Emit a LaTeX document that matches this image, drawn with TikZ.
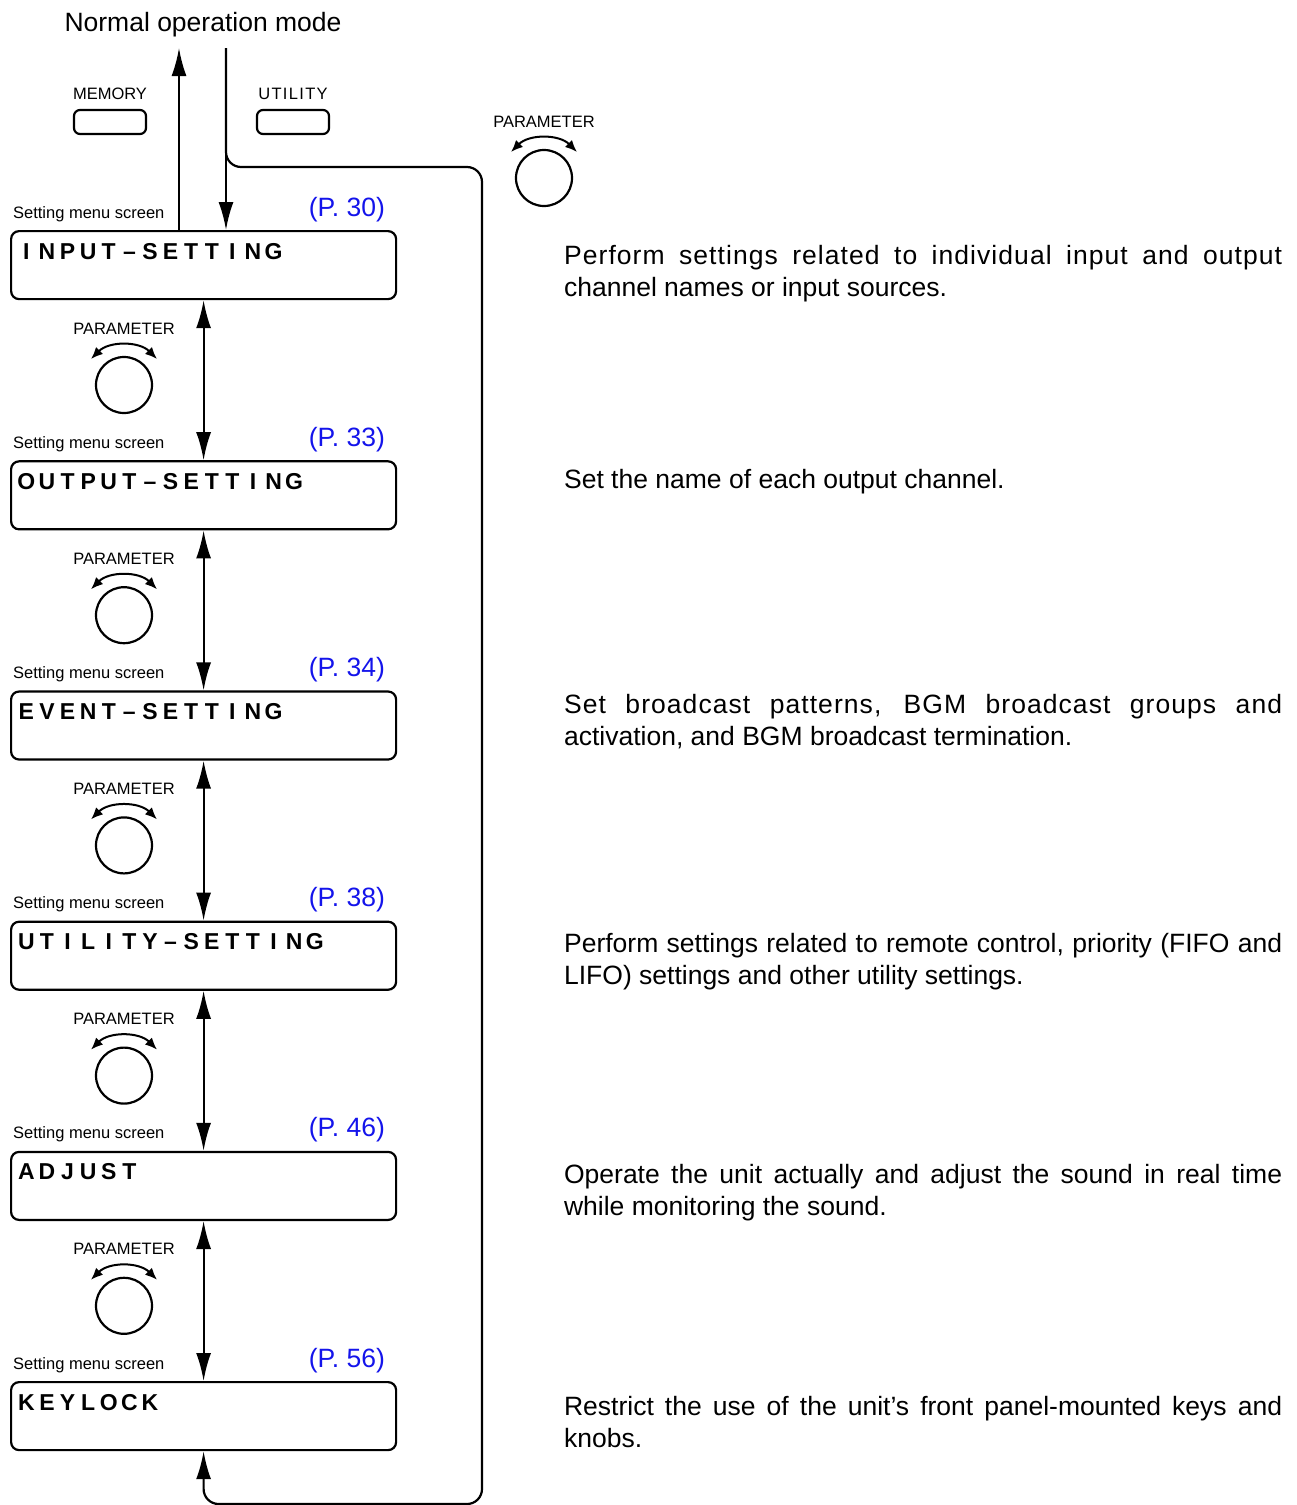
\documentclass[tikz,border=0pt]{standalone}
\usepackage{fontspec}
\setmainfont{Liberation Sans}
\usetikzlibrary{arrows.meta}
\definecolor{pblue}{RGB}{20,20,235}
\def\lcdstop{}
\newcommand\lcdtxt[1]{\lcdloop#1\lcdstop}
\newcommand\lcdloop[1]{\ifx#1\lcdstop\else\makebox[20.6pt]{#1}\expandafter\lcdloop\fi}
\begin{document}
\begin{tikzpicture}[x=1pt,y=-1pt, line width=2.2pt,
  lcdbox/.style={draw, rounded corners=8pt, minimum width=385pt, minimum height=68pt, anchor=north west, inner sep=0pt},
  lcdtext/.style={font=\fontsize{23}{23}\selectfont\bfseries, anchor=base west, inner sep=0pt},
  small/.style={font=\fontsize{16.5}{18}\selectfont, inner sep=0pt},
  page/.style={font=\fontsize{26.5}{30}\selectfont, text=pblue, inner sep=0pt, anchor=base east},
  desc/.style={font=\fontsize{26.5}{32}\selectfont, inner sep=0pt, anchor=base west},
  bigarr/.style={-{Latex[length=28pt,width=15pt]}},
  dblarr/.style={{Latex[length=28pt,width=15pt]}-{Latex[length=28pt,width=15pt]}},
  arcarr/.style={line width=2pt,{Latex[length=12pt,width=10pt]}-{Latex[length=12pt,width=10pt]}},
  knob/.style={draw, circle, minimum size=56pt, inner sep=0pt},
  btn/.style={draw, rounded corners=6pt, minimum width=72pt, minimum height=24pt, inner sep=0pt}]
\useasboundingbox (0,0) rectangle (1297,1505);

% top
\node[font=\fontsize{26.5}{28}\selectfont, anchor=base, inner sep=0pt] (mode) at (203,31) {Normal operation mode};
\node[small, anchor=base] (memL) at (110,99) {MEMORY};
\node[btn] (mem) at (110,122) {};
\node[small, anchor=base] (utlL) at (293,99) {\addfontfeature{LetterSpace=8}UTILITY};
\node[btn] (utl) at (293,122) {};

\node[small, anchor=base] (pl0) at (544,127) {PARAMETER};
\node[knob] (k0) at (544,178) {};
\draw[arcarr] ([shift={(-33,-26)}]k0.center) .. controls ([shift={(-15,-44)}]k0.center) and ([shift={(15,-44)}]k0.center) .. ([shift={(33,-26)}]k0.center);

% boxes
\foreach \i/\t/\p in {0/INPUT–SETTING/30, 1/OUTPUT–SETTING/33, 2/EVENT–SETTING/34, 3/UTILITY–SETTING/38, 4/ADJUST/46, 5/KEYLOCK/56}{
  \pgfmathsetmacro\top{230+230.2*\i}
  \node[lcdbox] (b\i) at (10,\top) {};
  \node[lcdtext] (t\i) at (15,\top+29) {\expandafter\lcdtxt\expandafter{\t}};
  \node[small, anchor=base west] (s\i) at (12,\top-12) {Setting menu screen};
  \node[page] (p\i) at (386,\top-14) {(P. \p)};
}
% knobs and arrows
\foreach \i [evaluate=\i as \j using int(\i+1)] in {0,...,4}{
  \pgfmathsetmacro\top{230+230.2*\i}
  \node[small, anchor=base] (kl\i) at (124,\top+104) {PARAMETER};
  \node[knob] (kk\i) at (124,\top+155) {};
  \draw[arcarr] ([shift={(-33,-26)}]kk\i.center) .. controls ([shift={(-15,-44)}]kk\i.center) and ([shift={(15,-44)}]kk\i.center) .. ([shift={(33,-26)}]kk\i.center);
  \draw[dblarr] (b\i.south) -- (b\j.north);
}

% mode arrows and loop
\coordinate (upTip) at (179,48);
\coordinate (dnTop) at (226,48);
\coordinate (loopTR) at (482,167);
\coordinate (loopBR) at (482,1504);
\draw[bigarr] (b0.north -| upTip) -- (upTip);
\draw[bigarr] (dnTop) -- (b0.north -| dnTop);
\draw[bigarr, rounded corners=15pt] (dnTop) |- (loopTR) -- (loopBR) -| (b5.south);

% descriptions
\node[desc] (d0a) at (563,264.5) {\addfontfeature{LetterSpace=4}\makebox[718pt][s]{Perform settings related to individual input and output}};
\node[desc] (d0b) at (563,296.5) {channel names or input sources.};
\node[desc] (d1a) at (563,488.5) {Set the name of each output channel.};
\node[desc] (d2a) at (563,713.5) {\addfontfeature{LetterSpace=4}\makebox[718pt][s]{Set broadcast patterns, BGM broadcast groups and}};
\node[desc] (d2b) at (563,745.5) {activation, and BGM broadcast termination.};
\node[desc] (d3a) at (563,952.5) {\makebox[718pt][s]{Perform settings related to remote control, priority (FIFO and}};
\node[desc] (d3b) at (563,984.5) {LIFO) settings and other utility settings.};
\node[desc] (d4a) at (563,1183.5) {\makebox[718pt][s]{Operate the unit actually and adjust the sound in real time}};
\node[desc] (d4b) at (563,1215.5) {while monitoring the sound.};
\node[desc] (d5a) at (563,1415.5) {\makebox[718pt][s]{Restrict the use of the unit{\char39}s front panel-mounted keys and}};
\node[desc] (d5b) at (563,1447.5) {knobs.};
\end{tikzpicture}
\end{document}
